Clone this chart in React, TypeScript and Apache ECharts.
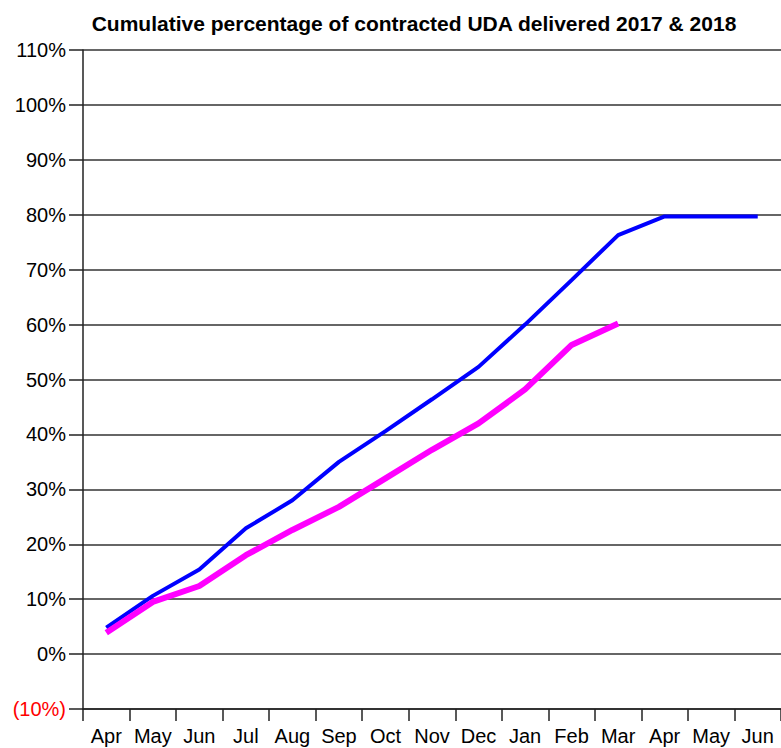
import React, { useEffect, useRef } from "react";
import * as echarts from "echarts";

const categories = ["Apr", "May", "Jun", "Jul", "Aug", "Sep", "Oct", "Nov", "Dec", "Jan", "Feb", "Mar", "Apr", "May", "Jun"];
const blueSeries = [4.8, 10.6, 15.4, 22.9, 28.0, 35.0, 40.6, 46.4, 52.3, 60.0, 68.1, 76.3, 79.7, 79.7, 79.7];
const magentaSeries = [3.9, 9.5, 12.4, 18.0, 22.6, 26.8, 32.0, 37.2, 42.0, 48.2, 56.3, 60.2];
const yMin = -10;
const yMax = 110;
const yInterval = 10;
const titleText = "Cumulative percentage of contracted UDA delivered 2017 & 2018";

export default function App() {
  const ref = useRef<HTMLDivElement>(null);
  useEffect(() => {
    if (!ref.current) return;
    const chart = echarts.init(ref.current, null, { renderer: "svg" });
    const font = "'Liberation Sans', Arial, sans-serif";
    chart.setOption({
      animation: false,
      backgroundColor: "#ffffff",
      title: {
        text: titleText,
        left: 409,
        textAlign: "center",
        top: 8,
        textStyle: { fontFamily: font, fontSize: 21, fontWeight: "bold", color: "#000" },
      },
      grid: { left: 83, top: 50, width: 700, height: 659 },
      xAxis: {
        type: "category",
        data: categories,
        boundaryGap: true,
        axisLine: { show: true, onZero: false, lineStyle: { color: "#222", width: 1.5 } },
        axisTick: { show: true, length: 12, lineStyle: { color: "#222", width: 1.5 } },
        axisLabel: { fontFamily: font, fontSize: 20, color: "#000", margin: 17, interval: 0 },
        splitLine: { show: false },
      },
      yAxis: {
        type: "value",
        min: yMin,
        max: yMax,
        interval: yInterval,
        axisLine: { show: true, lineStyle: { color: "#222", width: 1.5 } },
        axisTick: { show: true, length: 14, lineStyle: { color: "#222", width: 1.5 } },
        axisLabel: {
          fontFamily: font,
          fontSize: 20,
          color: "#000",
          margin: 17,
          formatter: (v: number) => (v < 0 ? "{neg|(" + Math.abs(v) + "%)}" : v + "%"),
          rich: { neg: { color: "#ff0000", fontFamily: font, fontSize: 20 } },
        },
        splitLine: { show: true, lineStyle: { color: "#333", width: 1.5 } },
      },
      series: [
        {
          type: "line",
          data: blueSeries,
          showSymbol: false,
          lineStyle: { color: "#0000ff", width: 4 },
          itemStyle: { color: "#0000ff" },
        },
        {
          type: "line",
          data: magentaSeries,
          showSymbol: false,
          lineStyle: { color: "#ff00ff", width: 6 },
          itemStyle: { color: "#ff00ff" },
        },
      ],
    });
    return () => chart.dispose();
  }, []);
  return (
    <div
      ref={ref}
      style={{ position: "fixed", left: 0, top: 0, width: 781, height: 748, background: "#fff" }}
    />
  );
}
